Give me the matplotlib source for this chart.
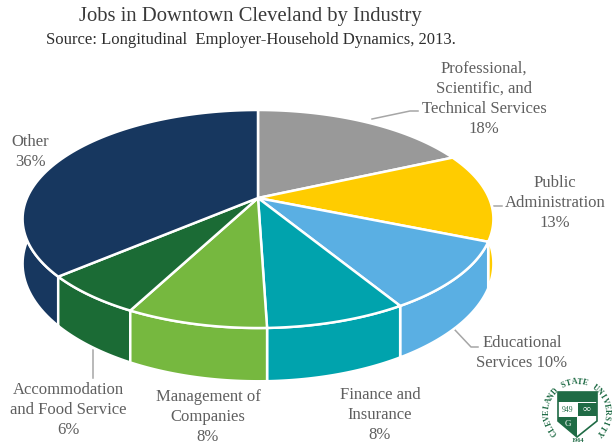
import numpy as np
import matplotlib
matplotlib.use("Agg")
import matplotlib.pyplot as plt
from matplotlib.patches import Polygon

plt.rcParams['font.family'] = ['Liberation Serif', 'DejaVu Serif']

industries = ["Professional,\nScientific, and\nTechnical Services", "Public\nAdministration",
              "Educational\nServices", "Finance and\nInsurance", "Management of\nCompanies",
              "Accommodation\nand Food Service", "Other"]
shares = [18, 13, 10, 8, 8, 6, 36]
colors = ["#999999", "#ffcc00", "#5aafe3", "#00a3ad", "#76b83f", "#1b6b35", "#17375f"]

# tilted disc: apex, radius and perspective of the pie
cx, cy = 258, 198
rx = 231
persp = 0.1927
ry = -66.8
depth = 43


def project(angle, drop=0.0):
    u, v = np.sin(angle), np.cos(angle)
    w = 1 + persp * v
    return cx + rx * u / w, (cy + ry * v + drop) / w


def arc(a0, a1, drop=0.0):
    t = np.linspace(a0, a1, 80)
    x, y = project(t, drop)
    return np.column_stack([x, y])


fig = plt.figure(figsize=(6.13, 4.48), dpi=100)
ax = fig.add_axes([0, 0, 1, 1])
ax.set_xlim(0, 613)
ax.set_ylim(448, 0)
ax.axis("off")

edges = np.cumsum([0] + shares) / sum(shares) * 2 * np.pi

# side wall, back slices first
for i in [6, 1, 2, 5, 3, 4]:
    top = arc(edges[i], edges[i + 1])
    low = arc(edges[i], edges[i + 1], depth)
    ax.add_patch(Polygon(np.vstack([top, low[::-1]]), fc=colors[i], ec="white", lw=1.8, zorder=2))

# top face
for i in range(len(shares)):
    pts = np.vstack([[cx, cy], arc(edges[i], edges[i + 1])])
    ax.add_patch(Polygon(pts, fc=colors[i], ec="white", lw=1.8, joinstyle="round", zorder=3))

# leader lines
line_kw = dict(color="#a6a6a6", lw=1.1, zorder=1)
ax.plot([372, 410, 418], [119, 111, 111], **line_kw)
ax.plot([494, 502], [206, 206], **line_kw)
ax.plot([455, 471, 478], [330, 347, 347], **line_kw)
ax.plot([93, 93], [350, 378], **line_kw)

# titles
ax.text(250, 16, "Jobs in Downtown Cleveland by Industry", ha="center", va="center",
        fontsize=14.9, color="#3a3a3a")
ax.text(251, 40, "Source: Longitudinal  Employer-Household Dynamics, 2013.", ha="center",
        va="center", fontsize=12, color="#2e2e2e")

# slice labels
label_pos = [(484, 99), (555, 203), (522, 353), (380, 415), (208, 417), (68, 410), (30, 152)]
for name, share, (lx, ly) in zip(industries, shares, label_pos):
    sep = " " if name == "Educational\nServices" else "\n"
    ax.text(lx, ly, f"{name}{sep}{share}%", ha="center", va="center", fontsize=12,
            color="#5f5f5f", linespacing=1.36)

# university seal
seal_green = "#1f6b45"
sx, sy, sr = 577, 412, 30
seal_text = "CLEVELAND STATE UNIVERSITY"
for ch, deg in zip(seal_text, np.linspace(222, -42, len(seal_text))):
    t = np.radians(deg)
    ax.text(sx + sr * np.cos(t), sy - sr * np.sin(t), ch, rotation=deg - 90, ha="center",
            va="center", fontsize=5.8, fontweight="bold", color=seal_green)
ax.add_patch(Polygon([(558, 392), (597, 392), (597, 421), (577, 437), (558, 421)],
                     fc="white", ec=seal_green, lw=1.2, zorder=3))
ax.add_patch(Polygon([(558, 392), (597, 392), (597, 402), (558, 402)], fc=seal_green, ec="none", zorder=4))
ax.add_patch(Polygon([(578, 403), (597, 403), (597, 416), (578, 416)], fc=seal_green, ec="none", zorder=4))
ax.add_patch(Polygon([(558, 417), (577, 417), (577, 437), (558, 421)], fc=seal_green, ec="none", zorder=4))
ax.text(568, 410, "949", ha="center", va="center", fontsize=5.5, color=seal_green, zorder=5)
ax.text(587, 409, "∞", ha="center", va="center", fontsize=8, color="white", zorder=5)
ax.text(568, 424, "G", ha="center", va="center", fontsize=6.5, color="white", zorder=5)
ax.text(578, 441, "1964", ha="center", va="center", fontsize=4.5, fontweight="bold", color=seal_green)

fig.savefig("out.png", dpi=100)
